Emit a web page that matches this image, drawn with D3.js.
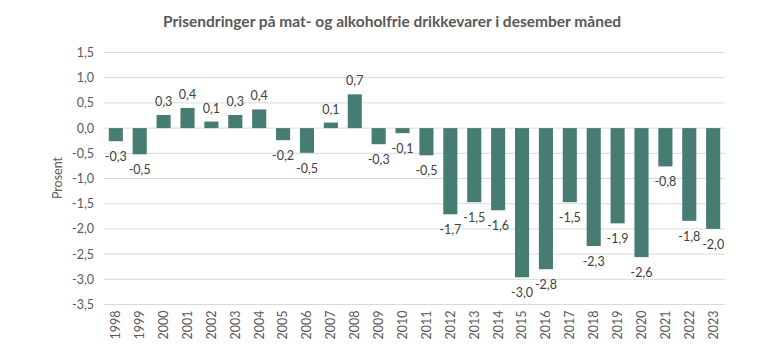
<!DOCTYPE html>
<html><head><meta charset="utf-8">
<script src="https://cdn.jsdelivr.net/npm/d3@7"></script>
<style>body{margin:0;background:#fff;} text{font-family:Lato, "Open Sans", sans-serif;}</style>
</head><body>
<svg id="c" width="768" height="358"></svg>
<script>
const years = ["1998","1999","2000","2001","2002","2003","2004","2005","2006","2007","2008","2009","2010","2011","2012","2013","2014","2015","2016","2017","2018","2019","2020","2021","2022","2023"];
const values = [-0.26,-0.52,0.26,0.40,0.13,0.26,0.37,-0.24,-0.49,0.11,0.67,-0.32,-0.10,-0.54,-1.71,-1.47,-1.63,-2.96,-2.80,-1.47,-2.34,-1.89,-2.56,-0.76,-1.84,-2.00];
const yTicks = [1.5,1.0,0.5,0.0,-0.5,-1.0,-1.5,-2.0,-2.5,-3.0,-3.5];
const title = "Prisendringer på mat- og alkoholfrie drikkevarer i desember måned";
const yTitle = "Prosent";

const svg = d3.select("#c");
const mLeft = 104, mRight = 725, mTop = 52.5, mBottom = 304.5;
const x = d3.scaleBand().domain(years).range([mLeft, mRight]).paddingInner(0.41).paddingOuter(0.2);
const y = d3.scaleLinear().domain([-3.5, 1.5]).range([mBottom, mTop]);
const fmt = v => d3.format(".1f")(v).replace(".", ",").replace("−","-");

svg.append("text").attr("x", 392).attr("y", 27).attr("text-anchor","middle")
  .attr("font-size", 15.5).attr("font-weight","bold").attr("fill","#595959").text(title);

svg.append("g").selectAll("line").data(yTicks).join("line")
  .attr("x1", mLeft).attr("x2", mRight).attr("y1", d=>y(d)).attr("y2", d=>y(d))
  .attr("stroke","#d9d9d9").attr("stroke-width",1);

const yAxis = d3.axisLeft(y).tickValues(yTicks).tickSize(0).tickPadding(10).tickFormat(fmt);
const ga = svg.append("g").attr("transform",`translate(${mLeft},0)`).call(yAxis);
ga.select(".domain").remove();
ga.selectAll("text").attr("font-size",12.5).attr("fill","#595959").attr("font-family","Lato, 'Open Sans', sans-serif");

svg.append("text").attr("transform","translate(62,178) rotate(-90)").attr("text-anchor","middle")
  .attr("font-size",12.5).attr("fill","#595959").text(yTitle);

svg.append("g").selectAll("rect").data(values).join("rect")
  .attr("x",(d,i)=>x(years[i])).attr("width",x.bandwidth())
  .attr("y",d=>y(Math.max(0,d))).attr("height",d=>Math.abs(y(d)-y(0)))
  .attr("fill","#467c72");

svg.append("g").selectAll("text").data(values).join("text")
  .attr("x",(d,i)=>x(years[i])+x.bandwidth()/2)
  .attr("y",d=> d>=0 ? y(d)-9 : y(d)+20)
  .attr("text-anchor","middle").attr("font-size",12.5).attr("fill","#404040")
  .text(d=>fmt(d));

const xAxis = d3.axisBottom(x).tickSize(0).tickPadding(0);
const gx = svg.append("g").attr("transform",`translate(0,${mBottom})`).call(xAxis);
gx.select(".domain").remove();
gx.selectAll("text").attr("font-size",12.5).attr("fill","#595959").attr("font-family","Lato, 'Open Sans', sans-serif")
  .attr("transform","rotate(-90)").attr("text-anchor","end").attr("dy","0.35em").attr("x",-6).attr("y",0);
</script>
</body></html>
